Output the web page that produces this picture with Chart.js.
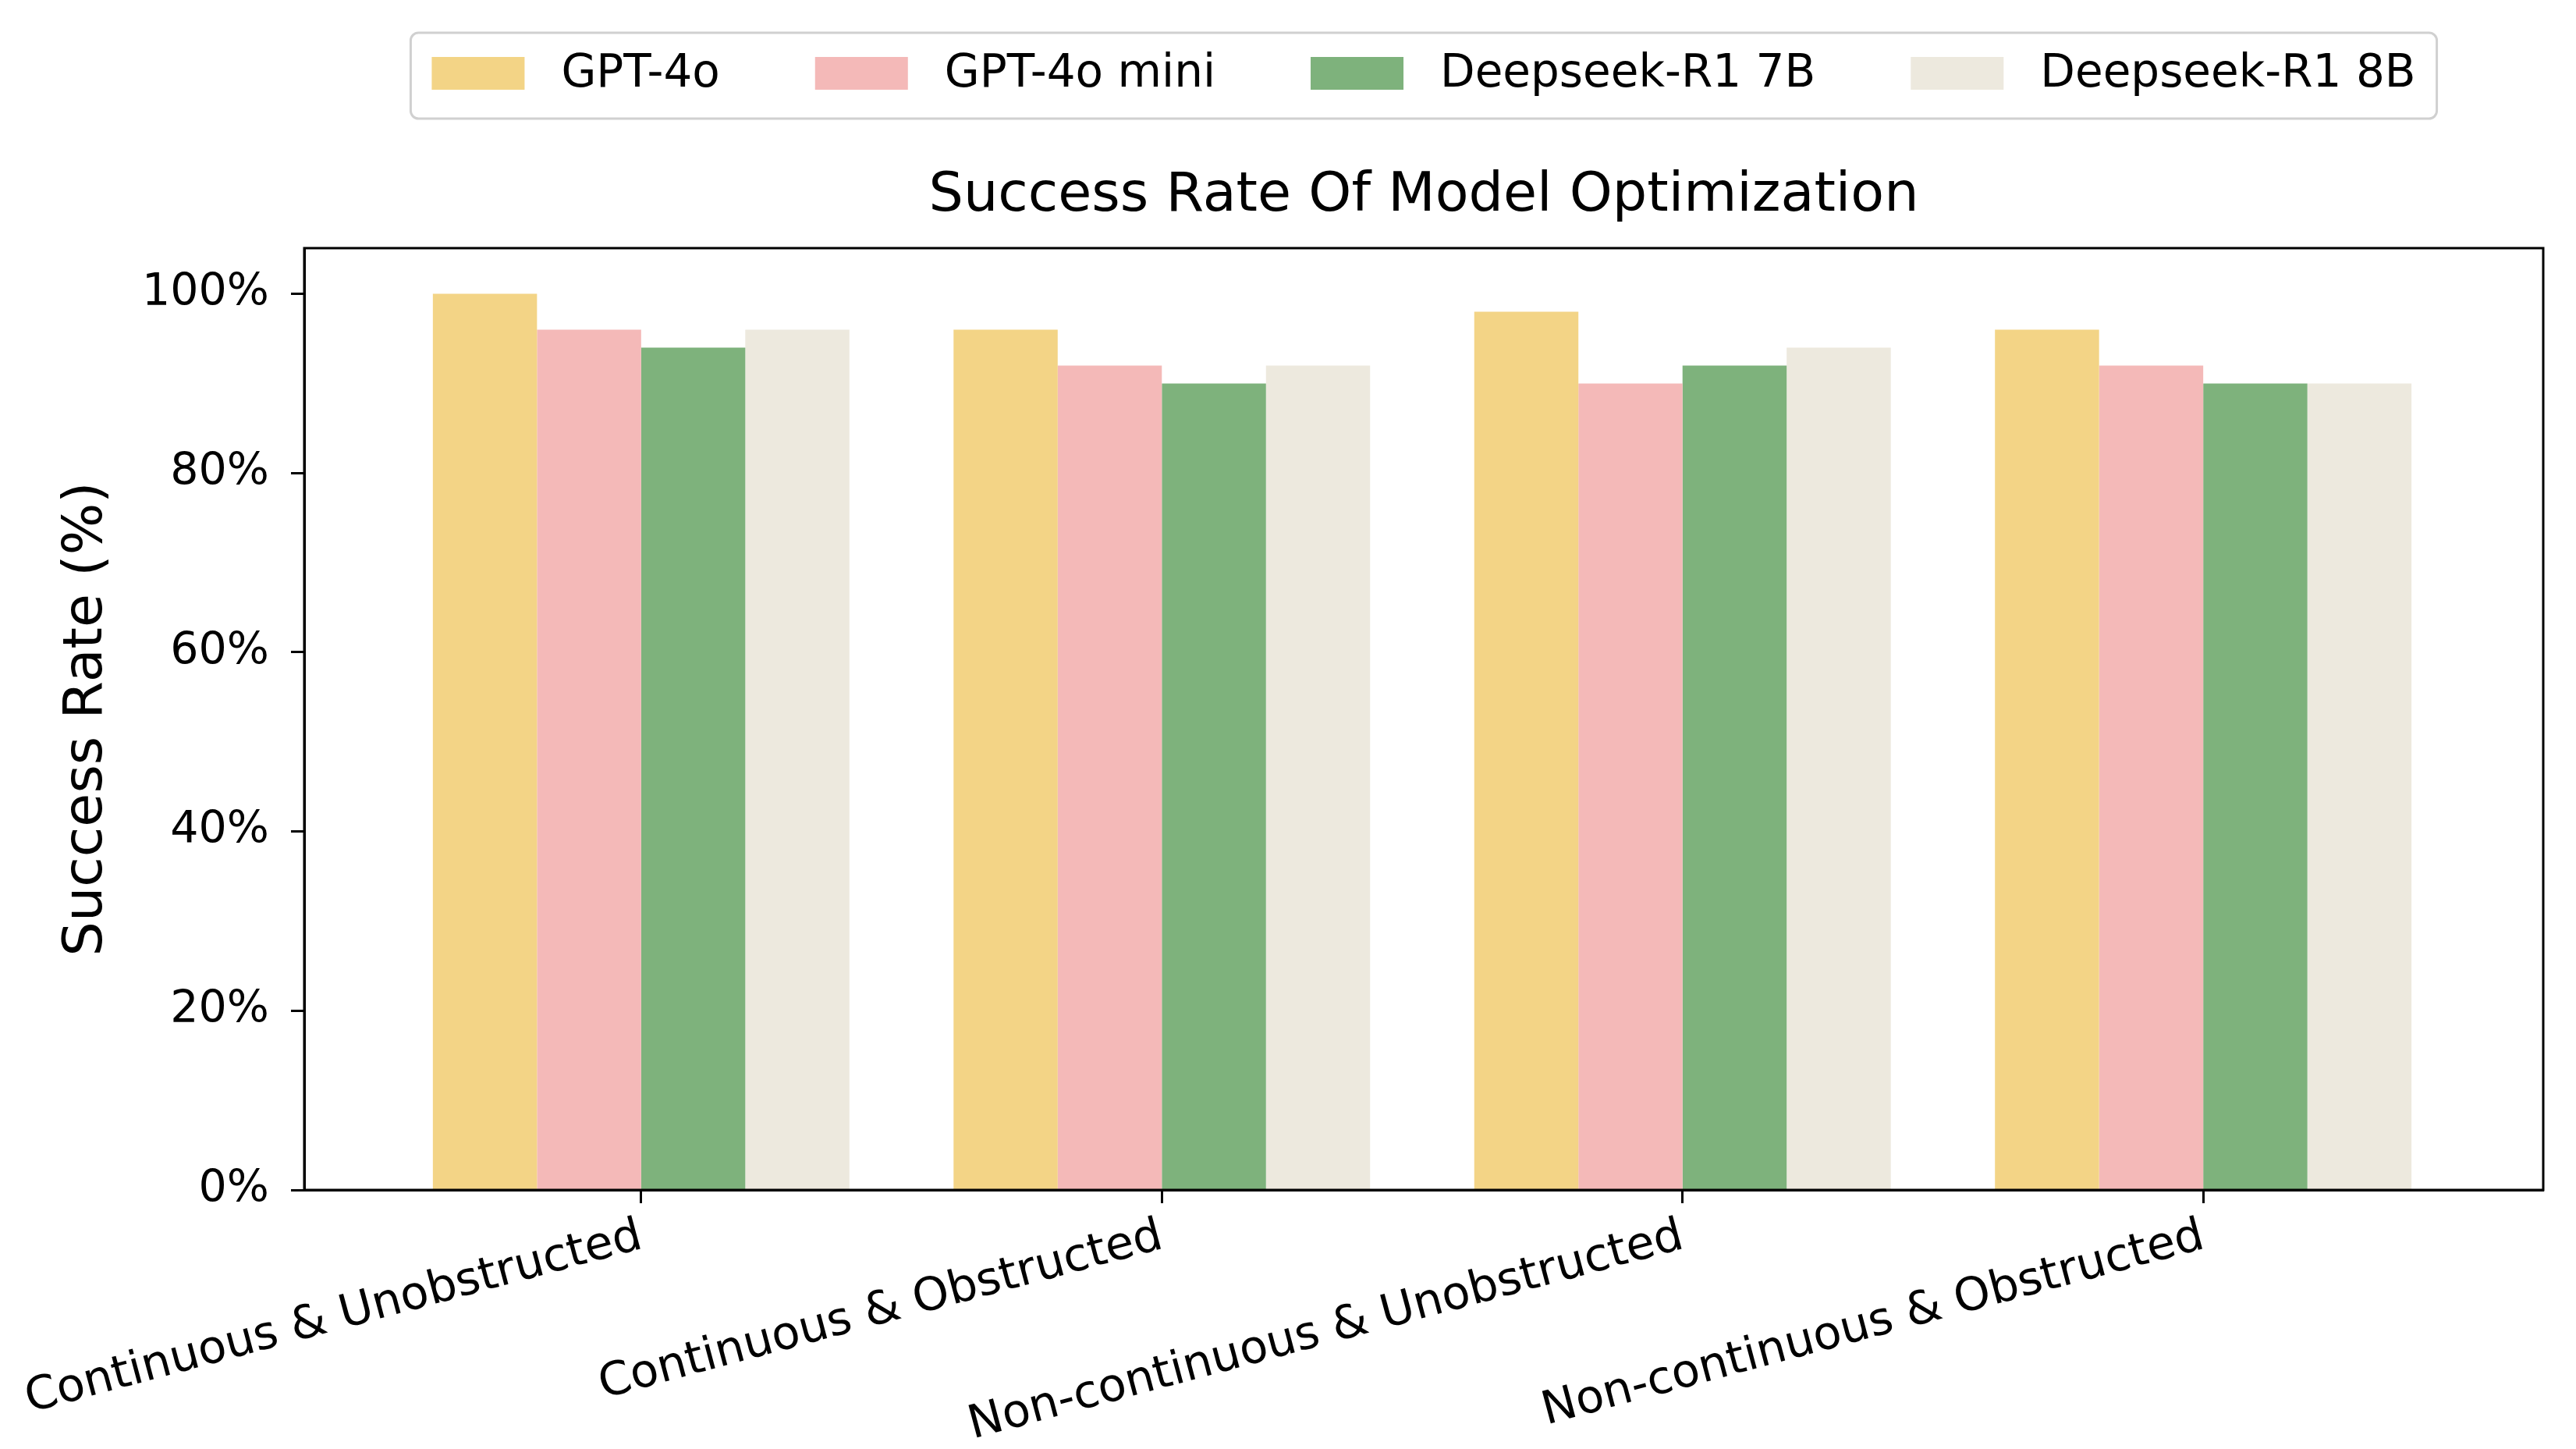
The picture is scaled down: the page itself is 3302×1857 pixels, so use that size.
<!DOCTYPE html>
<html>
<head>
<meta charset="utf-8">
<script src="https://cdn.jsdelivr.net/npm/chart.js@4.4.1/dist/chart.umd.min.js"></script>
<style>
  html, body { margin: 0; padding: 0; background: #fff; }
  #wrap { width: 3302px; height: 1857px; }
</style>
</head>
<body>
<div id="wrap"><canvas id="chart" width="3302" height="1857"></canvas></div>
<script>
// ---------- Data ----------
const CATEGORIES = ['Continuous & Unobstructed', 'Continuous & Obstructed', 'Non-continuous & Unobstructed', 'Non-continuous & Obstructed'];
const MODELS = ['GPT-4o', 'GPT-4o mini', 'Deepseek-R1 7B', 'Deepseek-R1 8B'];
const GPT4O = [100, 96, 98, 96];
const GPT4O_MINI = [96, 92, 90, 92];
const DEEPSEEK_7B = [94, 90, 92, 90];
const DEEPSEEK_8B = [96, 92, 94, 90];
const Y_TICKS = [0, 20, 40, 60, 80, 100];
const COLORS = ['#F3D486', '#F4B9B8', '#7EB27C', '#EDE9DE'];

const SERIES = [GPT4O, GPT4O_MINI, DEEPSEEK_7B, DEEPSEEK_8B];
const FONT = '"DejaVu Sans", sans-serif';

// ---------- Frame + legend drawn on top ----------
const frame = {
  id: 'frame',
  afterDraw(chart) {
    const { ctx, chartArea: a } = chart;
    ctx.save();
    ctx.strokeStyle = '#000';
    ctx.lineWidth = 3;
    ctx.strokeRect(a.left, a.top, a.right - a.left, a.bottom - a.top);
    ctx.restore();
  }
};

const legendBox = {
  id: 'legendBox',
  afterDraw(chart) {
    const { ctx, chartArea: a } = chart;
    ctx.save();
    ctx.font = '58px ' + FONT;
    const sw = 119, sh = 42, gap = 47, spacing = 122, padX = 27;
    const widths = MODELS.map(m => sw + gap + ctx.measureText(m).width);
    const total = widths.reduce((s, w) => s + w, 0) + spacing * (MODELS.length - 1);
    const boxW = total + padX * 2, boxH = 110;
    const left = (a.left + a.right) / 2 - boxW / 2;
    const top = 42;
    ctx.fillStyle = '#fff';
    ctx.strokeStyle = '#d0d0d0';
    ctx.lineWidth = 3;
    ctx.beginPath();
    ctx.roundRect(left, top, boxW, boxH, 10);
    ctx.fill();
    ctx.stroke();
    let x = left + padX;
    const cy = top + boxH / 2 - 3;
    MODELS.forEach((m, i) => {
      ctx.fillStyle = COLORS[i];
      ctx.fillRect(x, cy - sh / 2, sw, sh);
      ctx.fillStyle = '#000';
      ctx.textAlign = 'left';
      ctx.textBaseline = 'middle';
      ctx.fillText(m, x + sw + gap, cy + 2);
      x += widths[i] + spacing;
    });
    ctx.restore();
  }
};

// ---------- Chart ----------
new Chart(document.getElementById('chart'), {
  type: 'bar',
  data: {
    datasets: MODELS.map((m, i) => ({
      label: m,
      data: SERIES[i].map((v, j) => ({ x: j, y: v })),
      backgroundColor: COLORS[i],
      borderWidth: 0,
      categoryPercentage: 0.8,
      barPercentage: 1.0
    }))
  },
  options: {
    responsive: false,
    devicePixelRatio: 1,
    animation: false,
    layout: { padding: { top: 160, right: 42, left: 0, bottom: 0 } },
    plugins: {
      legend: { display: false },
      tooltip: { enabled: false },
      title: {
        display: true,
        text: 'Success Rate Of Model Optimization',
        fullSize: false,
        color: '#000',
        font: { family: FONT, size: 70, weight: 'normal' },
        padding: { top: 50, bottom: 24 }
      }
    },
    scales: {
      x: {
        type: 'linear',
        offset: false,
        min: -0.647,
        max: 3.653,
        afterBuildTicks: s => { s.ticks = CATEGORIES.map((_, i) => ({ value: i })); },
        afterFit: s => { s.height = 332; s.paddingLeft = 0; s.paddingRight = 0; },
        ticks: {
          autoSkip: false,
          minRotation: 15,
          maxRotation: 15,
          padding: 8,
          color: '#000',
          font: { family: FONT, size: 59 },
          callback: v => CATEGORIES[v]
        },
        grid: { offset: false, drawOnChartArea: false, tickLength: 17, tickWidth: 3, color: '#000' },
        border: { display: true, color: '#000', width: 3 }
      },
      y: {
        min: 0,
        max: 105.1,
        afterBuildTicks: s => { s.ticks = Y_TICKS.map(v => ({ value: v })); },
        afterFit: s => { s.width = 390; s.paddingTop = 0; s.paddingBottom = 0; },
        ticks: {
          padding: 28,
          color: '#000',
          font: { family: FONT, size: 57 },
          callback: v => v + '%'
        },
        grid: { drawOnChartArea: false, tickLength: 17, tickWidth: 3, color: '#000' },
        border: { display: true, color: '#000', width: 3 },
        title: {
          display: true,
          text: 'Success Rate (%)',
          color: '#000',
          font: { family: FONT, size: 70 },
          padding: { top: 70, bottom: 0 }
        }
      }
    }
  },
  plugins: [frame, legendBox]
});
</script>
</body>
</html>
